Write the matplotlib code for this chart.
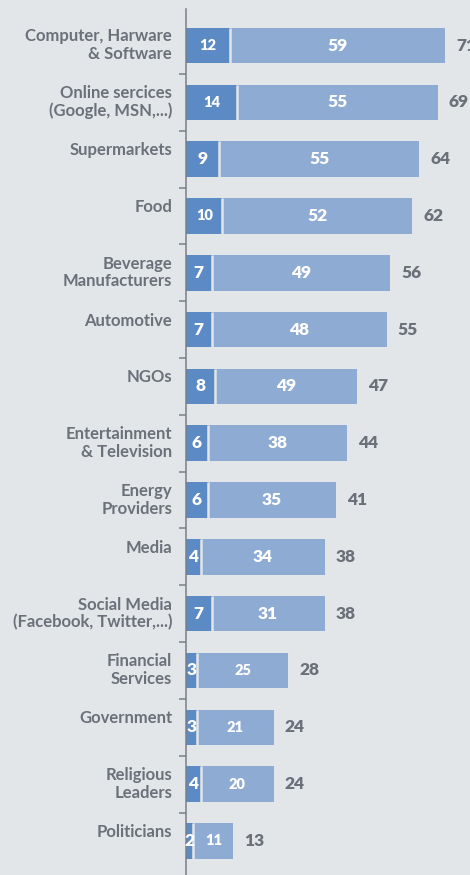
import matplotlib.pyplot as plt

categories = [
    'Computer, Harware\n& Software',
    'Online sercices\n(Google, MSN,...)',
    'Supermarkets',
    'Food',
    'Beverage\nManufacturers',
    'Automotive',
    'NGOs',
    'Entertainment\n& Television',
    'Energy\nProviders',
    'Media',
    'Social Media\n(Facebook, Twitter,...)',
    'Financial\nServices',
    'Government',
    'Religious\nLeaders',
    'Politicians',
]
dark_vals = [12, 14, 9, 10, 7, 7, 8, 6, 6, 4, 7, 3, 3, 4, 2]
light_vals = [59, 55, 55, 52, 49, 48, 49, 38, 35, 34, 31, 25, 21, 20, 11]
totals = [71, 69, 64, 62, 56, 55, 47, 44, 41, 38, 38, 28, 24, 24, 13]

dark_blue = '#5b8ac4'
light_blue = '#8eabd4'
bg = '#e3e6e9'
grey = '#6b7079'

plt.rcParams['font.family'] = ['Lato', 'DejaVu Sans']

fig = plt.figure(figsize=(4.70, 8.75), dpi=100, facecolor=bg)
ax = fig.add_axes([186 / 470, 0, 284 / 470, 1 - 9 / 875])
ax.set_facecolor(bg)

n = len(categories)
ys = list(range(n))
h = 0.625

# dark segment, then the rest of the total in the lighter tone
ax.barh(ys, dark_vals, height=h, color=dark_blue)
ax.barh(ys, [t - d for t, d in zip(totals, dark_vals)], left=dark_vals,
        height=h, color=light_blue)
ax.vlines(dark_vals, [y - h / 2 for y in ys], [y + h / 2 for y in ys],
          color=bg, lw=1.8)

for y, d, l, t, name in zip(ys, dark_vals, light_vals, totals, categories):
    ax.text(d / 2, y, str(d), ha='center', va='center', color='white',
            fontweight='heavy', fontsize=10.5 if d >= 10 else 12.5)
    ax.text(d + (t - d) / 2, y, str(l), ha='center', va='center',
            color='white', fontweight='heavy',
            fontsize=12.5 if l > 25 else 10.5)
    ax.annotate(str(t), xy=(t, y), xytext=(8, 0), textcoords='offset points',
                ha='left', va='center', color=grey, fontweight='heavy',
                fontsize=12.5, annotation_clip=False)
    ax.annotate(name, xy=(0, y - h / 2), xycoords=('axes fraction', 'data'),
                xytext=(-10, -0.5), textcoords='offset points', ha='right',
                va='top', color=grey, fontweight='bold', fontsize=12,
                linespacing=1.12, annotation_clip=False)

ax.set_xlim(0, 284 / 3.648)
ax.set_ylim(n - 0.4, -0.643)

for side in ['top', 'right', 'bottom']:
    ax.spines[side].set_visible(False)
ax.spines['left'].set_color('#7a7f86')
ax.spines['left'].set_linewidth(1.1)

ax.set_xticks([])
ax.set_yticks([])
ax.set_yticks([y + 0.5 for y in ys[:-1]], minor=True)
ax.tick_params(axis='y', which='minor', direction='out', length=5,
               width=1.1, color='#7a7f86', labelleft=False)

fig.savefig('out.png', dpi=100, facecolor=bg)
